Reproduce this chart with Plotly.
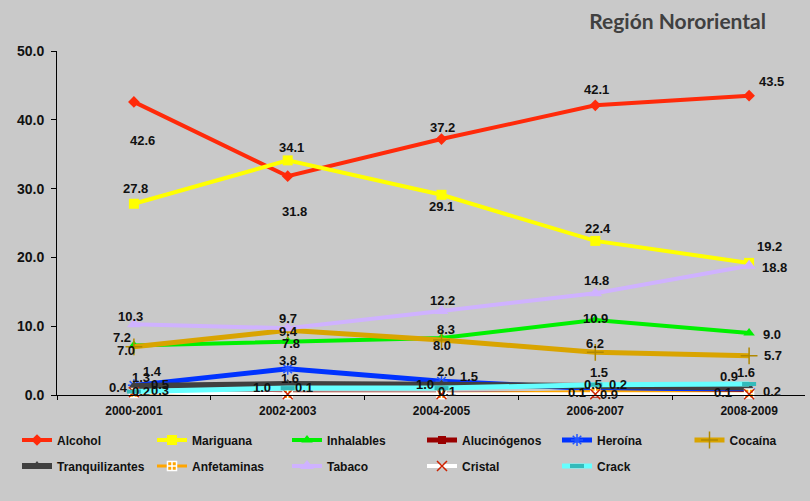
import plotly.graph_objects as go

periods = ["2000-2001", "2002-2003", "2004-2005", "2006-2007", "2008-2009"]

alcohol = [42.6, 31.8, 37.2, 42.1, 43.5]
mariguana = [27.8, 34.1, 29.1, 22.4, 19.2]
inhalables = [7.2, 7.8, 8.3, 10.9, 9.0]
alucinogenos = [0.2, 0.1, 0.1, 0.2, 0.2]
heroina = [1.4, 3.8, 2.0, 0.9, 0.9]
cocaina = [7.0, 9.4, 8.0, 6.2, 5.7]
tranquilizantes = [1.3, 1.6, 1.5, 1.2, 1.1]
anfetaminas = [0.3, 0.1, 0.1, 0.5, 0.2]
tabaco = [10.3, 9.7, 12.2, 14.8, 18.8]
cristal = [0.4, 0.1, 0.1, 0.1, 0.1]
crack = [0.5, 1.0, 1.0, 1.5, 1.6]

y_ticks = [0, 10, 20, 30, 40, 50]

# data-label pixel offsets (dx right, dy down) from each marker; None = no label
label_offsets = {
    "Alcohol": [(9, 39), (7, 35), (1, -12), (1, -16), (22, -14)],
    "Mariguana": [(2, -15), (4, -13), (0, 12), (3, -12), (20, -16)],
    "Inhalables": [(-12, -8), (3, 2), (4, -8), (0, -2), (23, 1)],
    "Alucinógenos": [(7, -2), None, None, (23, -9), (23, -2)],
    "Heroína": [(19, -14), (0, -8), (4, -10), (14, 6), (-20, -12)],
    "Cocaína": [(-8, 4), (1, 1), (0, 6), (0, -9), (24, 0)],
    "Tranquilizantes": [(7, -9), (2, -5), (27, -8), None, None],
    "Anfetaminas": [(26, -2), None, None, (-2, -7), None],
    "Tabaco": [(-3, -8), (0, -10), (1, -11), (1, -13), (25, 2)],
    "Cristal": [(-15, -5), (16, -7), (5, -3), (-18, -2), (-26, -2)],
    "Crack": [(26, -7), (-26, -1), (-17, -4), (4, -12), (-3, -11)],
}

series = [
    ("Alcohol", alcohol, "#FF2A0A", dict(symbol="diamond", size=9, color="#FF2A0A"), 4),
    ("Mariguana", mariguana, "#FFFF00", dict(symbol="square", size=10, color="#FFFF00"), 4),
    ("Inhalables", inhalables, "#00F000", dict(symbol="triangle-up", size=10, color="#00F000"), 4),
    ("Alucinógenos", alucinogenos, "#990000", dict(symbol="square", size=8, color="#990000"), 5),
    ("Heroína", heroina, "#0033FF", dict(symbol="asterisk-open", size=10, color="#2255FF", line=dict(width=1.5, color="#2255FF")), 5),
    ("Cocaína", cocaina, "#D9A400", dict(symbol="cross-thin-open", size=12, color="#B08800", line=dict(width=1.5, color="#B08800")), 5),
    ("Tranquilizantes", tranquilizantes, "#404040", dict(symbol="triangle-up", size=10, color="#404040"), 6),
    ("Anfetaminas", anfetaminas, "#FFA500", dict(symbol="square-cross", size=9, color="#FFA500", line=dict(width=1.5, color="#FFFFFF")), 3),
    ("Tabaco", tabaco, "#CFB2FF", dict(symbol="triangle-up", size=12, color="#CFB2FF"), 4),
    ("Cristal", cristal, "#FFFFFF", dict(symbol="x-thin-open", size=10, color="#CC2200", line=dict(width=1.5, color="#CC2200")), 4),
    ("Crack", crack, "#66FFFF", dict(symbol="line-ew-open", size=10, color="#33BBBB", line=dict(width=4, color="#33BBBB")), 5),
]

# which legend block each series belongs to (row 1 split in two blocks so it fits)
legend_of = ["legend"] * 5 + ["legend3"] + ["legend2"] * 5

fig = go.Figure()
for i, (name, vals, color, marker, lw) in enumerate(series):
    fig.add_trace(go.Scatter(
        x=periods, y=vals, name=name, mode="lines+markers",
        line=dict(color=color, width=lw),
        marker=marker,
        cliponaxis=False,
        legend=legend_of[i],
    ))

label_font = dict(family="Liberation Sans", size=13, color="#111111", weight="bold")
for name, vals, color, marker, lw in series:
    for per, v, off in zip(periods, vals, label_offsets[name]):
        if off is None:
            continue
        fig.add_annotation(
            x=per, y=v, xref="x", yref="y", text=f"{v:.1f}", showarrow=False,
            xshift=off[0], yshift=-off[1], font=label_font,
        )

cat_px = 153.8
plot_w = 810 - 57 - 5
legend_common = dict(
    orientation="h", xref="container", yref="container",
    xanchor="left", yanchor="middle",
    entrywidth=90, entrywidthmode="pixels",
    font=dict(family="Liberation Sans", size=12, color="#111111", weight="bold"),
    bgcolor="rgba(0,0,0,0)", itemwidth=30,
)
fig.update_layout(
    width=810, height=501,
    paper_bgcolor="#C9C9C9", plot_bgcolor="#C9C9C9",
    margin=dict(l=57, r=5, t=51, b=106, autoexpand=False),
    font=dict(family="Liberation Sans", size=12, color="#111111"),
    showlegend=True,
    legend=dict(legend_common, x=17 / 810, y=1 - 440 / 501),
    legend3=dict(legend_common, x=(17 + 5 * 134.5) / 810, y=1 - 440 / 501),
    legend2=dict(legend_common, x=17 / 810, y=1 - 466 / 501),
    title=dict(
        text="Región Nororiental", xref="container", yref="container",
        x=766 / 810, xanchor="right", y=1 - 22 / 501, yanchor="middle",
        font=dict(family="Lato", size=21, color="#404040", weight="bold"),
    ),
)
fig.update_xaxes(
    type="category", range=[-0.5, -0.5 + plot_w / cat_px],
    showgrid=False, showline=True, linecolor="#000000", linewidth=1,
    ticks="outside", tickson="boundaries", ticklen=4, tickcolor="#000000",
    tickfont=dict(family="Liberation Sans", size=12, color="#111111", weight="bold"),
    ticklabelstandoff=5,
    zeroline=False,
)
fig.update_yaxes(
    range=[0, 50], tickvals=y_ticks, tickformat=".1f",
    showgrid=False, showline=True, linecolor="#000000", linewidth=1,
    ticks="outside", ticklen=5, tickcolor="#000000",
    tickfont=dict(family="Liberation Sans", size=14, color="#111111", weight="bold"),
    ticklabelstandoff=4,
    zeroline=False,
)

fig.write_html("out.html", config={"displayModeBar": False},
               post_script="document.body.style.margin='0';")
